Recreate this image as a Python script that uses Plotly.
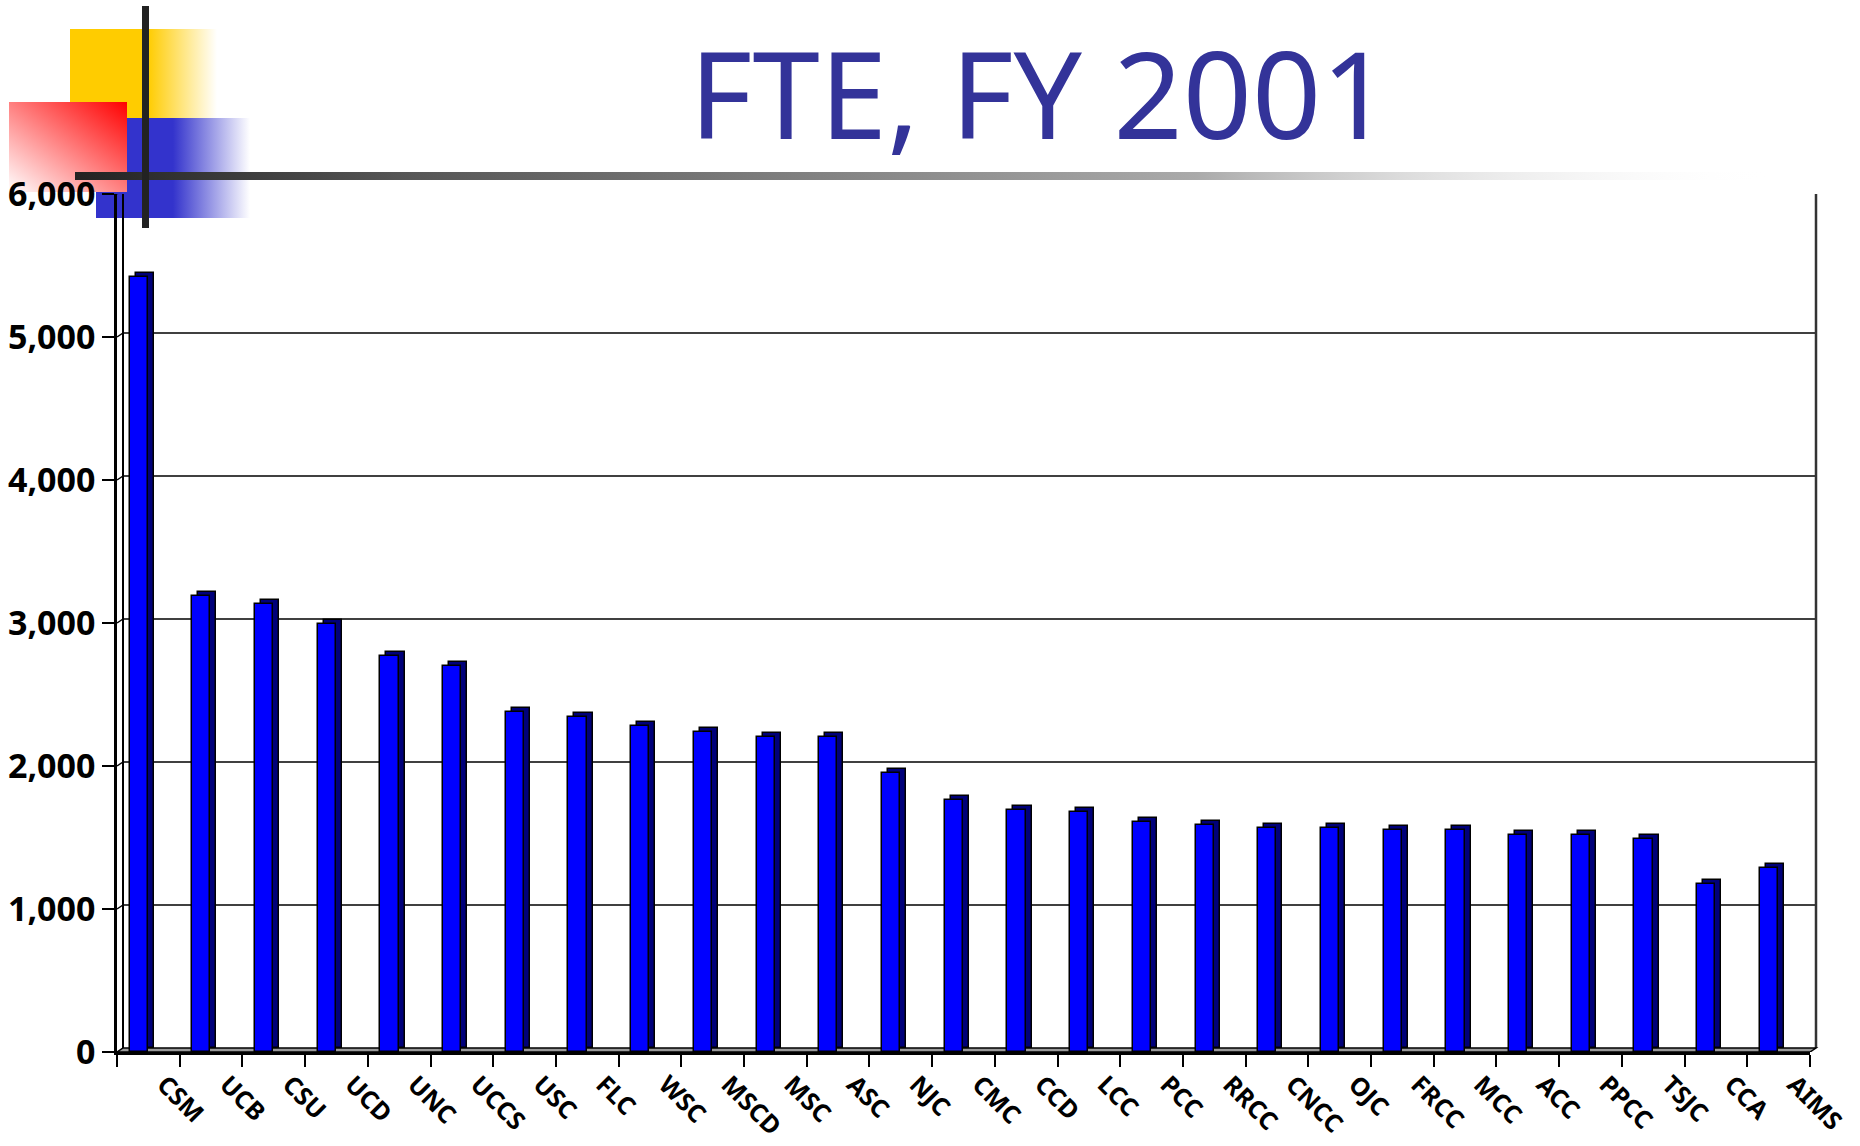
"""
FTE, FY 2001 - pseudo 3-D column chart rebuilt with Plotly
"""
import base64
import plotly.graph_objects as go

# ---- data -------------------------------------------------------------
colleges = ["CSM", "UCB", "CSU", "UCD", "UNC", "UCCS", "USC", "FLC", "WSC",
            "MSCD", "MSC", "ASC", "NJC", "CMC", "CCD", "LCC", "PCC", "RRCC",
            "CNCC", "OJC", "FRCC", "MCC", "ACC", "PPCC", "TSJC", "CCA", "AIMS"]
fte = [5420, 3190, 3130, 2990, 2770, 2700, 2380, 2340, 2280,
       2240, 2200, 2200, 1950, 1765, 1690, 1675, 1605, 1590,
       1565, 1565, 1555, 1550, 1515, 1515, 1490, 1175, 1290]
y_ticks = [0, 1000, 2000, 3000, 4000, 5000, 6000]
y_tick_text = ["0", "1,000", "2,000", "3,000", "4,000", "5,000", "6,000"]

# ---- geometry ---------------------------------------------------------
W, H = 1860, 1146
L, R, T, B = 117, 50, 194, 94
PW, PH = W - L - R, H - T - B
DX, DY = 6, 4                      # 3-D depth in pixels
dxp = DX / PW                      # depth in paper units
dyv = DY / PH * y_ticks[-1]        # depth in data units

FRONT = "#0000FF"
SIDE = "#00007A"


def svg_uri(svg):
    return "data:image/svg+xml;base64," + base64.b64encode(svg.encode()).decode()


# coloured squares of the slide template
deco_below = f"""<svg xmlns="http://www.w3.org/2000/svg" width="{W}" height="{H}"
 viewBox="0 0 {W} {H}" preserveAspectRatio="none">
<defs>
<linearGradient id="gy" x1="0" y1="0" x2="1" y2="0">
 <stop offset="0.53" stop-color="#FFCC00"/><stop offset="1" stop-color="#FFCC00" stop-opacity="0"/>
</linearGradient>
<linearGradient id="gb" x1="0" y1="0" x2="1" y2="0">
 <stop offset="0.5" stop-color="#3333CC"/><stop offset="1" stop-color="#3333CC" stop-opacity="0"/>
</linearGradient>
<linearGradient id="gr" x1="1" y1="0" x2="0" y2="1">
 <stop offset="0" stop-color="#FF0000"/><stop offset="1" stop-color="#FFFFFF"/>
</linearGradient>
</defs>
<rect x="70" y="29" width="147" height="89" fill="url(#gy)"/>
<rect x="96" y="118" width="154" height="100" fill="url(#gb)"/>
<rect x="9" y="102" width="118" height="90" fill="url(#gr)"/>
</svg>"""

# dark cross of the template
deco_above = f"""<svg xmlns="http://www.w3.org/2000/svg" width="{W}" height="{H}"
 viewBox="0 0 {W} {H}" preserveAspectRatio="none">
<defs>
<linearGradient id="gl" x1="0" y1="0" x2="1" y2="0">
 <stop offset="0" stop-color="#222222"/><stop offset="0.19" stop-color="#555555"/>
 <stop offset="0.66" stop-color="#AAAAAA"/><stop offset="1" stop-color="#FFFFFF" stop-opacity="0"/>
</linearGradient>
</defs>
<rect x="75" y="172" width="1700" height="8" fill="url(#gl)"/>
<rect x="142" y="6" width="7" height="222" fill="#222222"/>
</svg>"""

fig = go.Figure()

# side / top faces (shifted up-right), then the front faces
fig.add_trace(go.Bar(
    x=colleges, y=fte, base=dyv, offset=-0.30 + dxp * len(colleges), width=0.29,
    marker=dict(color=SIDE, line=dict(color="black", width=1.5)),
    hoverinfo="skip", showlegend=False,
))
fig.add_trace(go.Bar(
    x=colleges, y=fte, offset=-0.30, width=0.29, name="FTE",
    marker=dict(color=FRONT, line=dict(color="black", width=1.5)),
    showlegend=False,
))

# back-wall gridlines with the small diagonal from the axis
shapes = []
for v in y_ticks[1:]:
    shapes.append(dict(type="line", xref="paper", yref="y", x0=0, x1=dxp,
                       y0=v, y1=v + dyv, line=dict(color="black", width=1.5),
                       layer="below"))
    shapes.append(dict(type="line", xref="paper", yref="y", x0=dxp, x1=1 + dxp,
                       y0=v + dyv, y1=v + dyv,
                       line=dict(color="black", width=2 if v == y_ticks[-1] else 1.5),
                       layer="below"))
# back wall left edge and right edge
shapes.append(dict(type="line", xref="paper", yref="y", x0=dxp, x1=dxp,
                   y0=dyv, y1=y_ticks[-1] + dyv, line=dict(color="black", width=2),
                   layer="below"))
shapes.append(dict(type="line", xref="paper", yref="y", x0=1 + dxp, x1=1 + dxp,
                   y0=dyv, y1=y_ticks[-1] + dyv, line=dict(color="#333333", width=2.5),
                   layer="below"))
# floor
shapes.append(dict(type="path", xref="paper", yref="y",
                   path=f"M 0 0 L 1 0 L {1 + dxp} {dyv} L {dxp} {dyv} Z",
                   fillcolor="#9A9A9A", line=dict(color="black", width=1.5),
                   layer="below"))

fig.update_layout(
    width=W, height=H,
    margin=dict(l=L, r=R, t=T, b=B, autoexpand=False),
    paper_bgcolor="white",
    plot_bgcolor="rgba(0,0,0,0)",
    barmode="overlay",
    bargap=0,
    showlegend=False,
    title=dict(text="FTE, FY 2001", xref="container", yref="container",
               x=1040 / W, xanchor="center", y=1 - 97 / H, yanchor="middle",
               font=dict(family="Noto Sans", size=121, color="#333399")),
    shapes=shapes,
    images=[
        dict(source=svg_uri(deco_below), xref="paper", yref="paper",
             x=-L / PW, y=1 + T / PH, sizex=W / PW, sizey=H / PH,
             xanchor="left", yanchor="top", sizing="stretch", layer="below"),
        dict(source=svg_uri(deco_above), xref="paper", yref="paper",
             x=-L / PW, y=1 + T / PH, sizex=W / PW, sizey=H / PH,
             xanchor="left", yanchor="top", sizing="stretch", layer="above"),
    ],
)

fig.update_xaxes(
    type="category", range=[-0.5, len(colleges) - 0.5],
    tickson="boundaries", ticks="outside", ticklen=12, tickwidth=2,
    tickcolor="black", tickangle=45,
    ticklabelshift=16, ticklabelstandoff=5,
    tickfont=dict(family="Noto Sans", size=25, color="black", weight="bold"),
    showline=True, linecolor="black", linewidth=3,
    showgrid=False, zeroline=False,
)
fig.update_yaxes(
    range=[0, y_ticks[-1]], tickvals=y_ticks, ticktext=y_tick_text,
    ticks="outside", ticklen=12, tickwidth=2, tickcolor="black",
    tickfont=dict(family="Noto Sans", size=34, color="black", weight="bold"),
    showline=True, linecolor="black", linewidth=2.5,
    showgrid=False, zeroline=False,
)

# the page is photographed at the window's top-left corner: drop the body margin
fig.write_html("out.html", config={"displayModeBar": False},
               post_script="document.body.style.margin='0';")
